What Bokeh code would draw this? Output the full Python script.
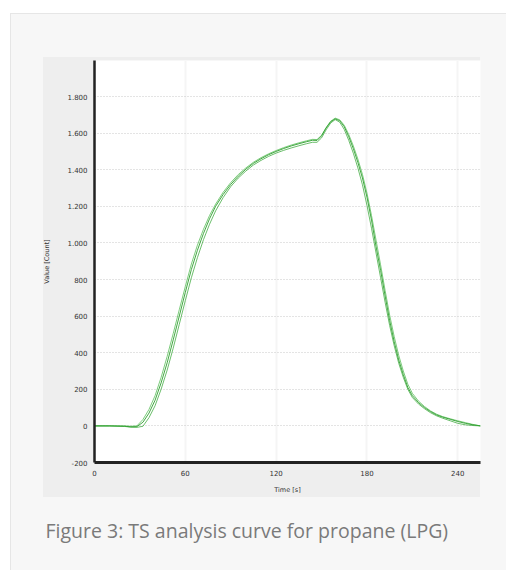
from bokeh.plotting import figure
from bokeh.models import FixedTicker, Range1d, Title
from bokeh.embed import file_html
from bokeh.resources import INLINE

# ---- data ----
time_s = [0, 10, 20, 24, 28, 32, 36, 40, 44, 48, 52, 56, 60, 64, 68, 72, 76, 80, 85, 90,
          95, 100, 105, 110, 115, 120, 125, 130, 135, 140, 144, 147, 150, 153, 156, 159, 162, 165, 168, 171,
          174, 177, 180, 183, 186, 189, 192, 195, 198, 201, 204, 207, 210, 214, 218, 222, 226, 230, 235, 240,
          245, 250, 255]
run_a = [0, 0, -2, -5, -4, 20, 70, 140, 235, 345, 470, 600, 730, 855, 960, 1052, 1132, 1200, 1265, 1320,
         1365, 1403, 1435, 1460, 1482, 1500, 1516, 1530, 1542, 1553, 1561, 1560, 1585, 1628, 1662, 1678, 1668, 1635, 1580, 1515,
         1440, 1355, 1250, 1125, 980, 850, 710, 575, 460, 360, 280, 210, 165, 128, 100, 78, 60, 48, 36, 24,
         14, 6, 0]
run_b = [0, 0, -3, -7, -8, -2, 45, 110, 200, 305, 425, 555, 685, 810, 920, 1018, 1102, 1175, 1248, 1308,
         1355, 1393, 1426, 1451, 1473, 1491, 1506, 1519, 1531, 1542, 1550, 1550, 1574, 1618, 1655, 1674, 1660, 1620, 1560, 1490,
         1410, 1318, 1205, 1080, 945, 810, 675, 548, 438, 342, 265, 200, 155, 120, 94, 72, 55, 42, 28, 14,
         6, 2, 0]
run_c = [0, 0, 0, -2, 0, 35, 90, 165, 265, 380, 505, 635, 762, 885, 988, 1075, 1150, 1212, 1277, 1330,
         1374, 1410, 1441, 1466, 1487, 1505, 1521, 1535, 1547, 1558, 1566, 1565, 1588, 1630, 1665, 1682, 1673, 1643, 1592, 1530,
         1458, 1375, 1272, 1150, 1015, 880, 740, 605, 488, 385, 300, 228, 178, 136, 106, 82, 64, 51, 39, 28,
         18, 8, 0]

x_ticks = [0, 60, 120, 180, 240]
x_tick_labels = ["0", "60", "120", "180", "240"]
y_ticks = [-200, 0, 200, 400, 600, 800, 1000, 1200, 1400, 1600, 1800]
y_tick_labels = ["-200", "0", "200", "400", "600", "800", "1.000", "1.200", "1.400", "1.600", "1.800"]
caption = "Figure 3: TS analysis curve for propane (LPG)"

W, H = 506, 570
page_bg = ("linear-gradient(#eeeeee,#eeeeee) 43px 57px / 437px 440px no-repeat, "
           "linear-gradient(#f7f7f7,#f7f7f7) 11px 14px / 495px 556px no-repeat, "
           "linear-gradient(#e6e6e6,#e6e6e6) 10px 13px / 496px 557px no-repeat, #ffffff")

p = figure(width=W, height=H, output_backend="svg", toolbar_location=None,
           x_range=Range1d(0, 255), y_range=Range1d(-200, 1997),
           min_border_left=94, min_border_right=26, min_border_top=60, min_border_bottom=108,
           styles={"background": page_bg})
p.background_fill_color = "white"
p.border_fill_color = None
p.outline_line_color = None

for ys, col, al in [(run_b, "#3aa83a", 0.75), (run_c, "#5cbf5c", 0.8), (run_a, "#2f9e2f", 0.9)]:
    p.line(time_s, ys, line_color=col, line_width=1, line_alpha=al)

p.xaxis.ticker = FixedTicker(ticks=x_ticks)
p.xaxis.major_label_overrides = dict(zip(x_ticks, x_tick_labels))
p.yaxis.ticker = FixedTicker(ticks=y_ticks)
p.yaxis.major_label_overrides = dict(zip(y_ticks, y_tick_labels))

for ax in (p.xaxis, p.yaxis):
    ax.major_tick_line_color = None
    ax.minor_tick_line_color = None
    ax.axis_line_color = "#222222"
    ax.major_label_text_font = "DejaVu Sans"
    ax.major_label_text_font_size = "7px"
    ax.major_label_text_color = "#333333"
    ax.axis_label_text_font = "DejaVu Sans"
    ax.axis_label_text_font_size = "6.5px"
    ax.axis_label_text_font_style = "normal"
    ax.axis_label_text_color = "#333333"
p.yaxis.axis_line_width = 2.5
p.xaxis.axis_line_width = 3
p.xaxis.axis_label = "Time [s]"
p.yaxis.axis_label = "Value [Count]"
p.xaxis.major_label_standoff = 1
p.yaxis.major_label_standoff = 1
p.xaxis.axis_label_standoff = 7
p.yaxis.axis_label_standoff = 13

p.ygrid.grid_line_color = "#c8c8c8"
p.ygrid.grid_line_dash = "1 2"
p.ygrid.grid_line_width = 1
p.xgrid.grid_line_color = "#f5f5f5"
p.xgrid.grid_line_width = 2

cap = Title(text=caption, align="left", offset=-49, standoff=37,
            text_font="Open Sans", text_font_size="19.5px", text_font_style="normal",
            text_color="#7a7a7a")
p.add_layout(cap, "below")

open("out.html", "w").write(file_html(p, INLINE))
